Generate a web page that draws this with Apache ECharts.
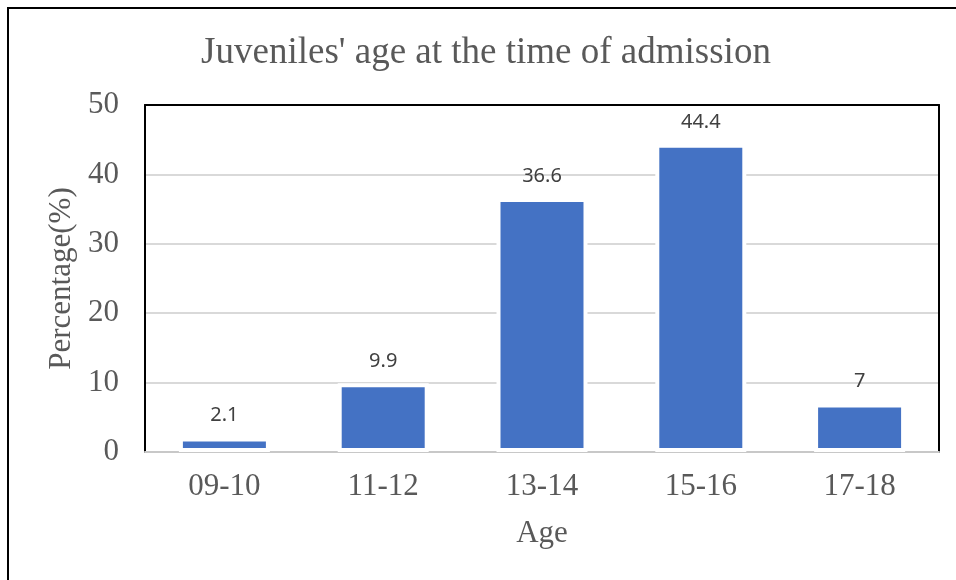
<!DOCTYPE html>
<html>
<head>
<meta charset="utf-8">
<script src="https://cdn.jsdelivr.net/npm/echarts@6/dist/echarts.min.js"></script>
<style>
html,body{margin:0;padding:0;background:#fff;}
#chart{width:956px;height:580px;}
</style>
</head>
<body>
<div id="chart"></div>
<script>
const categories = ['09-10', '11-12', '13-14', '15-16', '17-18'];
const percentages = [2.1, 9.9, 36.6, 44.4, 7];
const titleText = "Juveniles' age at the time of admission";
const xAxisName = 'Age';
const yAxisName = 'Percentage(%)';

const serif = '"Liberation Serif", "Times New Roman", serif';
const chart = echarts.init(document.getElementById('chart'));
chart.setOption({
  animation: false,
  backgroundColor: '#fff',
  title: {
    text: titleText,
    left: 481,
    top: 30,
    textAlign: 'center',
    textStyle: { fontFamily: serif, fontSize: 37, fontWeight: 'normal', color: '#595959' }
  },
  graphic: [{
    type: 'rect',
    shape: { x: 8, y: 8, width: 1000, height: 1000 },
    style: { fill: 'none', stroke: '#000', lineWidth: 2 },
    silent: true
  }],
  grid: { left: 145, right: 17, top: 105, bottom: 128, containLabel: false },
  xAxis: [{
    type: 'category',
    data: categories,
    position: 'bottom',
    name: xAxisName,
    nameLocation: 'middle',
    nameGap: 66,
    nameTextStyle: { fontFamily: serif, fontSize: 31, color: '#595959' },
    axisLine: { show: true, onZero: false, lineStyle: { color: '#c8c8c8', width: 2 } },
    axisTick: { show: false },
    axisLabel: { fontFamily: serif, fontSize: 31, color: '#595959', margin: 19 },
    splitLine: { show: false }
  }, {
    type: 'category',
    data: categories,
    position: 'top',
    axisLine: { show: true, onZero: false, lineStyle: { color: '#000', width: 2 } },
    axisTick: { show: false },
    axisLabel: { show: false },
    splitLine: { show: false }
  }],
  yAxis: [{
    type: 'value',
    min: 0, max: 50, interval: 10,
    name: yAxisName,
    nameLocation: 'middle',
    nameGap: 67,
    nameRotate: 90,
    nameTextStyle: { fontFamily: serif, fontSize: 31, color: '#595959' },
    axisLine: { show: true, lineStyle: { color: '#000', width: 2 } },
    axisTick: { show: false },
    axisLabel: { fontFamily: serif, fontSize: 31, color: '#595959', margin: 26 },
    splitLine: { show: true, lineStyle: { color: '#d9d9d9', width: 2 } }
  }, {
    type: 'value',
    min: 0, max: 50, interval: 10,
    position: 'right',
    axisLine: { show: true, lineStyle: { color: '#000', width: 2 } },
    axisTick: { show: false },
    axisLabel: { show: false },
    splitLine: { show: false }
  }],
  series: [{
    type: 'bar',
    data: percentages,
    barWidth: 91,
    itemStyle: { color: '#4472C4', borderColor: '#ffffff', borderWidth: 4 },
    label: {
      show: true,
      position: 'top',
      distance: 12,
      fontFamily: '"Noto Sans", "Open Sans", sans-serif',
      fontSize: 20,
      color: '#404040'
    }
  }]
});
</script>
</body>
</html>
